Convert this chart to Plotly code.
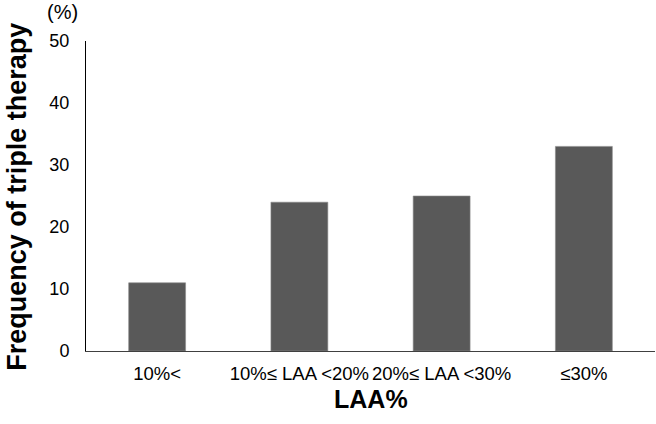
import plotly.graph_objects as go

categories = ["10%<", "10%≤ LAA <20%", "20%≤ LAA <30%", "≤30%"]
values = [11, 24, 25, 33]
y_ticks = [0, 10, 20, 30, 40, 50]

FONT = "Liberation Sans, Arial, sans-serif"

fig = go.Figure(go.Bar(
    x=categories, y=values,
    marker=dict(color="#595959", line=dict(color="#8a8a8a", width=0.6)),
    width=0.4,
))

fig.update_layout(
    width=656, height=424,
    margin=dict(l=86, r=1, t=41, b=72.5),
    plot_bgcolor="white", paper_bgcolor="white",
    showlegend=False,
    font=dict(family=FONT, color="black"),
    xaxis=dict(
        range=[-0.5, 3.5], showline=True, linecolor="#404040", linewidth=1,
        ticks="", tickfont=dict(size=18.5), ticklabelstandoff=6,
        showgrid=False, zeroline=False,
    ),
    yaxis=dict(
        range=[0, 50], tickvals=y_ticks, showline=True, linecolor="black",
        linewidth=1, ticks="", tickfont=dict(size=18), ticklabelstandoff=12,
        showgrid=False, zeroline=False,
    ),
    annotations=[
        dict(text="(%)", xref="paper", yref="paper", x=(62 - 86) / 569,
             y=(351.5 - 12) / 310.5, showarrow=False, font=dict(size=20),
             xanchor="center", yanchor="middle"),
        dict(text="<b>Frequency of triple therapy</b>", xref="paper", yref="paper",
             x=(17 - 86) / 569, y=(351.5 - 197) / 310.5, textangle=-90,
             showarrow=False, font=dict(size=27), xanchor="center", yanchor="middle"),
        dict(text="<b>LAA%</b>", xref="paper", yref="paper",
             x=0.5, y=(351.5 - 400) / 310.5, showarrow=False,
             font=dict(size=25), xanchor="center", yanchor="middle"),
    ],
)

fig.write_html("out.html", config={"displayModeBar": False},
               post_script="document.body.style.margin='0';")
